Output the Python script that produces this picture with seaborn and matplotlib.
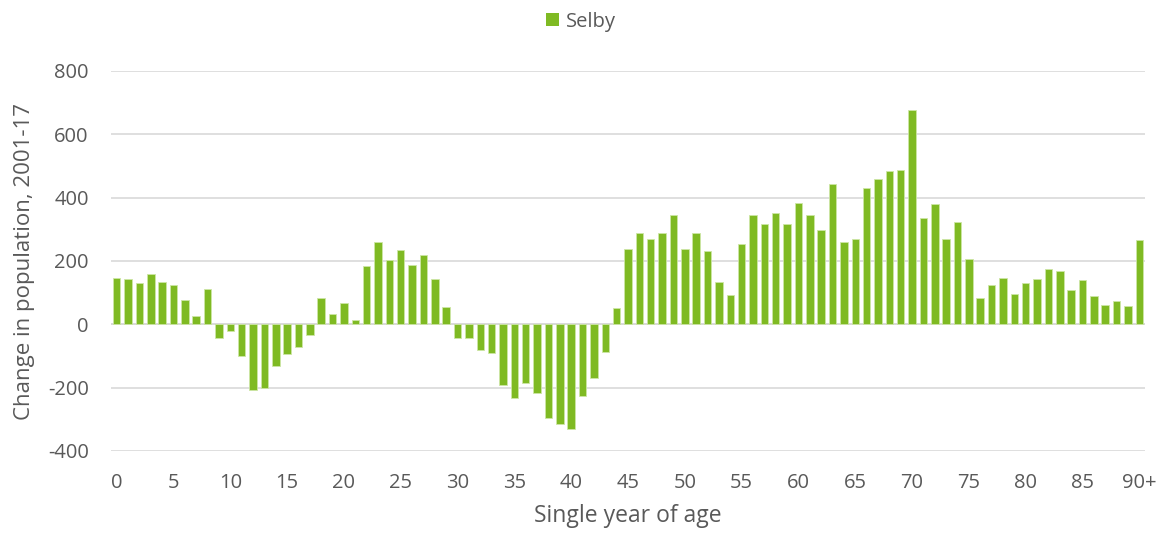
import matplotlib
matplotlib.use("Agg")
import matplotlib.pyplot as plt
import seaborn as sns
import pandas as pd
from matplotlib.patches import Patch

ages = [str(i) for i in range(90)] + ["90+"]
values = [147, 142, 129, 160, 134, 124, 77, 26, 112, -44,
          -22, -99, -207, -200, -132, -94, -71, -34, 83, 34,
          67, 15, 184, 259, 202, 234, 187, 219, 144, 56,
          -43, -43, -81, -92, -193, -232, -186, -218, -296, -314,
          -329, -227, -168, -87, 51, 238, 289, 271, 288, 346,
          239, 287, 233, 133, 93, 255, 344, 316, 353, 317,
          383, 345, 297, 442, 261, 269, 431, 460, 484, 488,
          678, 335, 380, 271, 324, 207, 84, 125, 145, 96,
          131, 142, 175, 169, 109, 139, 91, 60, 75, 57,
          265]
series_name = "Selby"
yticks = [-400, -200, 0, 200, 400, 600, 800]
xtick_labels = ["0", "5", "10", "15", "20", "25", "30", "35", "40", "45",
                "50", "55", "60", "65", "70", "75", "80", "85", "90+"]

df = pd.DataFrame({"age": ages, "value": values})

sns.set_theme(style="white")
plt.rcParams["font.family"] = ["Open Sans", "DejaVu Sans"]
text_color = "#595959"
bar_color = "#7FBA23"

fig = plt.figure(figsize=(11.62, 5.36), dpi=100)
ax = fig.add_axes([111/1162, 1 - 451/536, 1034/1162, 380/536])

sns.barplot(data=df, x="age", y="value", order=ages, color=bar_color,
            width=0.66, edgecolor="#CDE6A5", linewidth=0.6, ax=ax,
            saturation=1)

ax.set_xlim(-0.5, 90.5)
ax.set_ylim(-400, 800)
ax.set_yticks(yticks)
ax.set_yticklabels([str(v) for v in yticks])
ax.set_xticks([ages.index(l) for l in xtick_labels])
ax.set_xticklabels(xtick_labels)
ax.tick_params(axis="both", length=0, labelsize=14.5, colors=text_color)
ax.tick_params(axis="y", pad=16)
ax.tick_params(axis="x", pad=16)
ax.yaxis.grid(True, color="#D9D9D9", linewidth=1.2)
ax.set_axisbelow(True)
for s in ax.spines.values():
    s.set_visible(False)
ax.axhline(0, color="#D9D9D9", linewidth=1.4, zorder=0.5)

ax.set_xlabel("Single year of age", fontsize=16.5, color=text_color, labelpad=8)
ax.set_ylabel("Change in population, 2001-17", fontsize=16, color=text_color, labelpad=9)

handle = Patch(facecolor=bar_color, edgecolor="none")
fig.legend([handle], [series_name], loc="upper center", bbox_to_anchor=(0.5, 1.012),
           frameon=False, fontsize=14.5, labelcolor=text_color,
           handlelength=0.65, handleheight=0.65, handletextpad=0.35)

fig.savefig("out.png", dpi=100)
